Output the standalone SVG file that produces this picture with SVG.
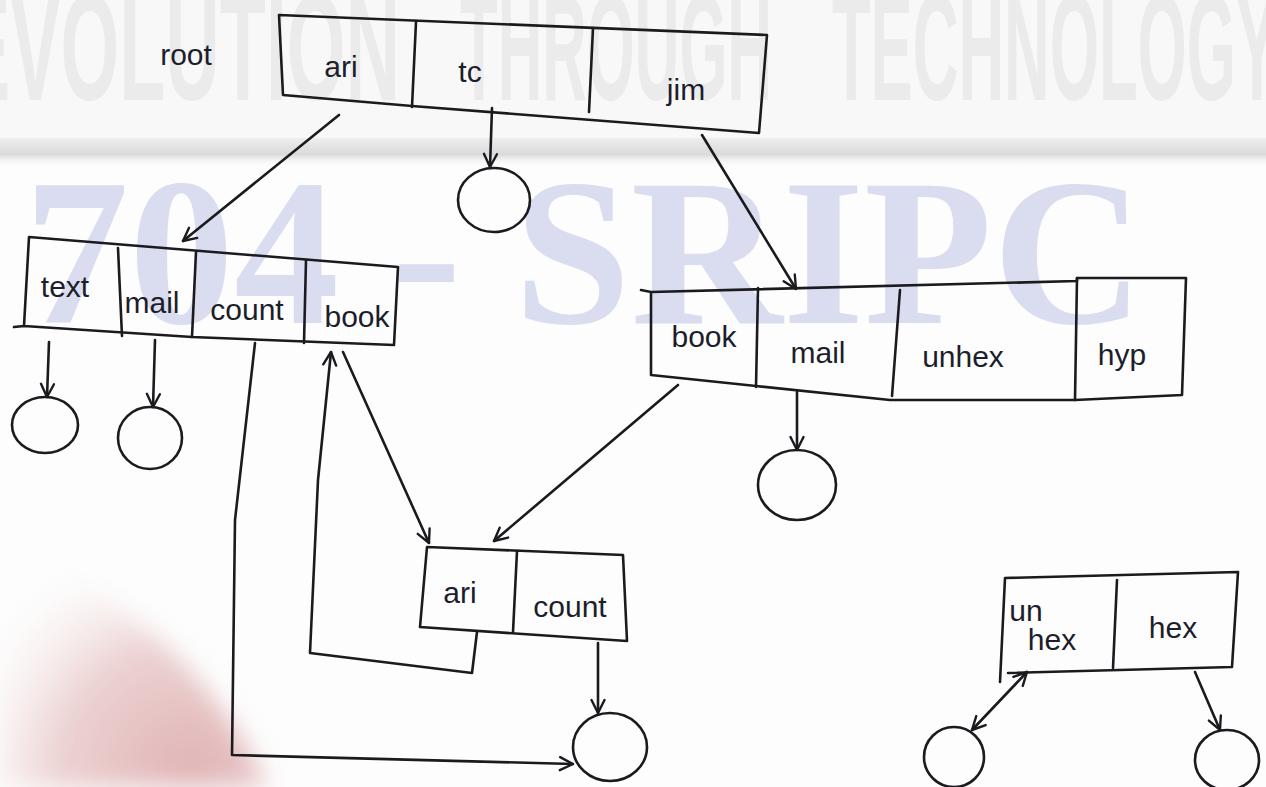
<svg xmlns="http://www.w3.org/2000/svg" width="1266" height="787" viewBox="0 0 1266 787">
  <defs>
    <style>
      .ink { fill: none; stroke: #1b1b1f; stroke-width: 2.6; stroke-linecap: round; stroke-linejoin: round; }
      .lbl { font-family: "Liberation Sans", Arial, sans-serif; font-size: 30px; fill: #1d1e2c; text-anchor: middle; }
      .wm-top { font-family: "Liberation Sans", Arial, sans-serif; font-weight: bold; font-size: 150px; fill: #ebebeb; }
      .wm-big { font-family: "Liberation Serif", "Times New Roman", serif; font-weight: bold; font-size: 210px; fill: #dadcf0; }
    </style>
    <marker id="arr" viewBox="0 0 16 16" refX="15" refY="8" markerWidth="16" markerHeight="16" markerUnits="userSpaceOnUse" orient="auto-start-reverse">
      <path d="M2,1.5 L15,8 L2,14.5" fill="none" stroke="#1b1b1f" stroke-width="2.4" stroke-linecap="round" stroke-linejoin="round"/>
    </marker>
    <linearGradient id="band" x1="0" y1="0" x2="0" y2="1">
      <stop offset="0" stop-color="#eeeeee"/>
      <stop offset="0.55" stop-color="#dadada"/>
      <stop offset="1" stop-color="#ffffff" stop-opacity="0"/>
    </linearGradient>
    <radialGradient id="stain" cx="190" cy="775" r="240" gradientUnits="userSpaceOnUse">
      <stop offset="0" stop-color="#e0b3b5"/>
      <stop offset="0.55" stop-color="#ecd2d2"/>
      <stop offset="1" stop-color="#f8f0f0" stop-opacity="0"/>
    </radialGradient>
    <filter id="soft" x="-20%" y="-20%" width="140%" height="140%">
      <feGaussianBlur stdDeviation="12"/>
    </filter>
  </defs>

  <!-- paper -->
  <rect x="0" y="0" width="1266" height="787" fill="#fdfdfd"/>

  <!-- page background marks -->
  <g id="background">
    <rect x="0" y="0" width="1266" height="140" fill="#f8f8f8"/>
    <text class="wm-top" x="-40" y="100" textLength="440" lengthAdjust="spacingAndGlyphs">EVOLUTION</text>
    <text class="wm-top" x="460" y="100" textLength="312" lengthAdjust="spacingAndGlyphs">THROUGH</text>
    <text class="wm-top" x="832" y="100" textLength="446" lengthAdjust="spacingAndGlyphs">TECHNOLOGY</text>
    <rect x="0" y="138" width="1266" height="30" fill="url(#band)"/>
    <text class="wm-big" x="24" y="323">704 - SRIPC</text>
    <path d="M0,550 C60,565 130,605 190,670 C228,712 252,752 268,787 L0,787 Z" fill="url(#stain)" filter="url(#soft)"/>
  </g>

  <!-- root array -->
  <g id="root-node">
    <text class="lbl" x="186" y="65" font-size="28">root</text>
    <path class="ink" d="M279,15 L767,35 L759,133 L412,106 L283,95 Z"/>
    <path class="ink" d="M416,22 L412,107 M593,28 L589,112"/>
    <text class="lbl" x="341" y="77">ari</text>
    <text class="lbl" x="470" y="82">tc</text>
    <text class="lbl" x="686" y="100">jim</text>
  </g>

  <!-- second level: text / mail / count / book -->
  <g id="node-text-mail-count-book">
    <path class="ink" d="M29,237 L398,267 L394,345 L192,337 L24,326 Z M24,326 L14,327"/>
    <path class="ink" d="M118,248 L122,336 M196,252 L192,337 M306,260 L304,343"/>
    <text class="lbl" x="65" y="297">text</text>
    <text class="lbl" x="152" y="313">mail</text>
    <text class="lbl" x="247" y="320">count</text>
    <text class="lbl" x="357" y="327">book</text>
  </g>

  <!-- second level: book / mail / unhex / hyp -->
  <g id="node-book-mail-unhex-hyp">
    <path class="ink" d="M651,292 L1077,281 L1077,278 L1186,278 L1182,395 L1075,400 L890,400 L756,386 L651,375 Z M641,290 L651,292"/>
    <path class="ink" d="M758,288 L756,387 M900,290 L892,396 M1077,278 L1075,400"/>
    <text class="lbl" x="704" y="347">book</text>
    <text class="lbl" x="818" y="363">mail</text>
    <text class="lbl" x="963" y="367">unhex</text>
    <text class="lbl" x="1122" y="365">hyp</text>
  </g>

  <!-- third level: ari / count -->
  <g id="node-ari-count">
    <path class="ink" d="M427,547 L623,555 L627,641 L420,627 Z"/>
    <path class="ink" d="M517,551 L513,632"/>
    <text class="lbl" x="460" y="603">ari</text>
    <text class="lbl" x="570" y="617">count</text>
  </g>

  <!-- third level: un hex / hex -->
  <g id="node-unhex-hex">
    <path class="ink" d="M1000,682 L1005,578 L1238,572 L1232,667 L1008,673"/>
    <path class="ink" d="M1117,580 L1113,668"/>
    <text class="lbl" x="1026" y="621" font-size="22">un</text>
    <text class="lbl" x="1052" y="650" font-size="26">hex</text>
    <text class="lbl" x="1173" y="638">hex</text>
  </g>

  <!-- end-of-word leaves -->
  <g id="leaf-tc"><ellipse class="ink" cx="494" cy="200" rx="36" ry="32"/></g>
  <g id="leaf-text"><ellipse class="ink" cx="45" cy="425" rx="33" ry="28"/></g>
  <g id="leaf-mail"><ellipse class="ink" cx="150" cy="438" rx="32" ry="31"/></g>
  <g id="leaf-jim-mail"><ellipse class="ink" cx="797" cy="485" rx="39" ry="35"/></g>
  <g id="leaf-count"><ellipse class="ink" cx="610" cy="747" rx="37" ry="34"/></g>
  <g id="leaf-unhex"><ellipse class="ink" cx="954" cy="757" rx="30" ry="30"/></g>
  <g id="leaf-hex"><ellipse class="ink" cx="1227" cy="760" rx="32" ry="30"/></g>

  <!-- pointers -->
  <g id="connectors" class="ink">
    <path d="M339,115 L183,241" marker-end="url(#arr)"/>
    <path d="M492,108 L490,167" marker-end="url(#arr)"/>
    <path d="M702,135 L796,289" marker-end="url(#arr)"/>
    <path d="M49,342 L47,397" marker-end="url(#arr)"/>
    <path d="M155,340 L153,407" marker-end="url(#arr)"/>
    <path d="M255,343 L235,520 L232,755 L573,764" marker-end="url(#arr)"/>
    <path d="M477,632 L472,673 L310,653 L318,480 L331,352" marker-end="url(#arr)"/>
    <path d="M343,352 L429,543" marker-end="url(#arr)"/>
    <path d="M678,385 L494,541" marker-end="url(#arr)"/>
    <path d="M598,643 L598,713" marker-end="url(#arr)"/>
    <path d="M797,392 L797,450" marker-end="url(#arr)"/>
    <path d="M1027,672 L972,730" marker-start="url(#arr)" marker-end="url(#arr)"/>
    <path d="M1195,672 L1220,730" marker-end="url(#arr)"/>
  </g>
</svg>
